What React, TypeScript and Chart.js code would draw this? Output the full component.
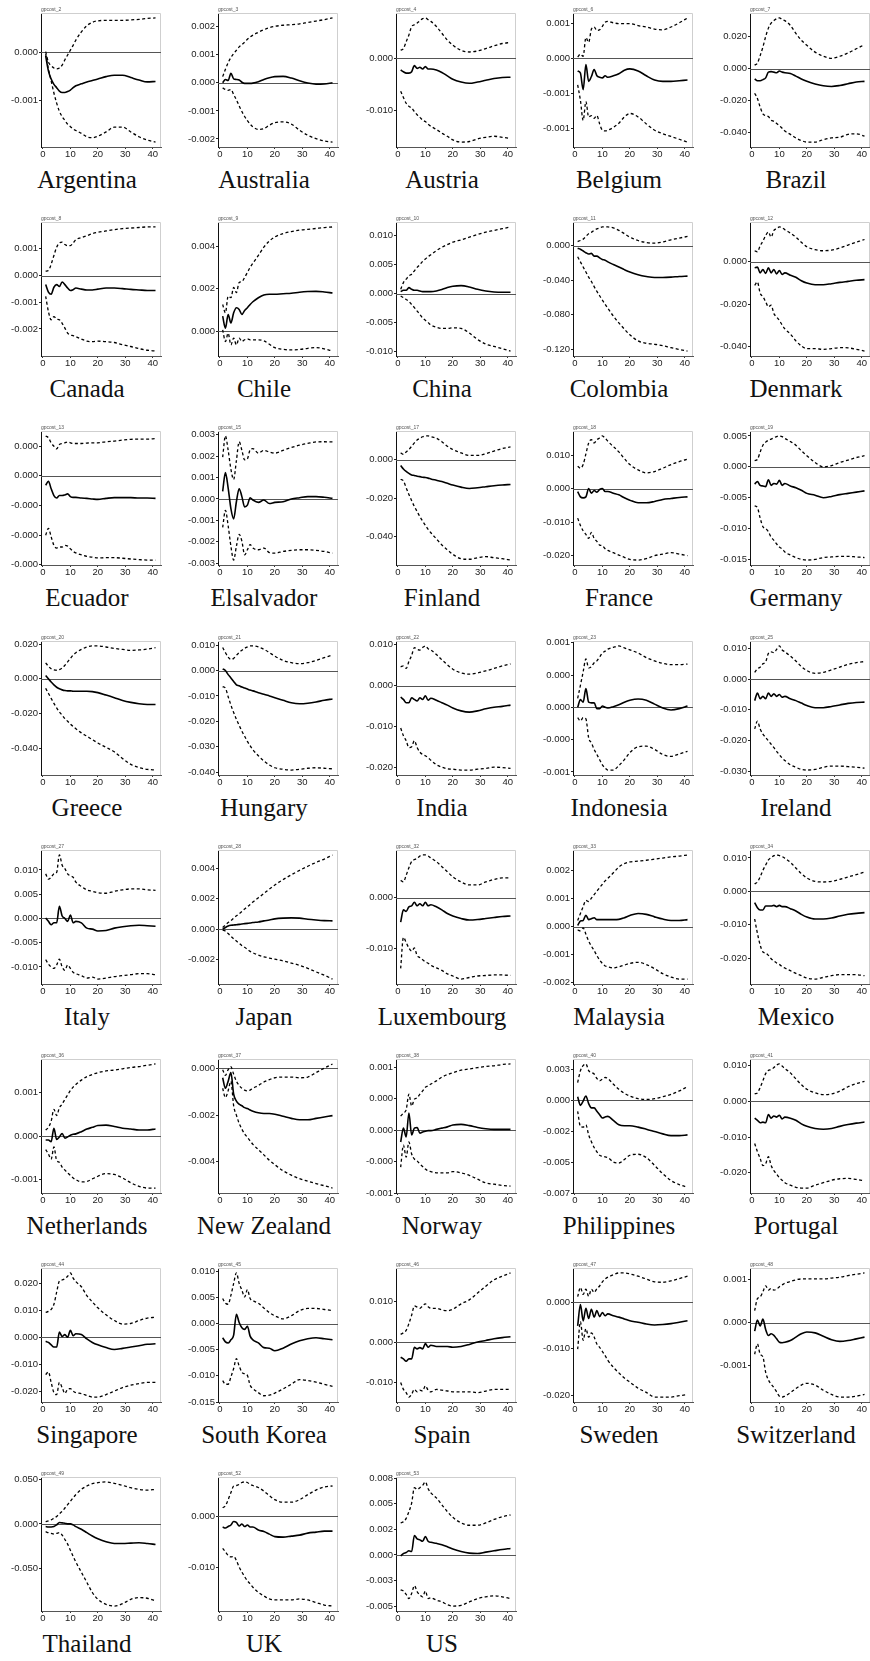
import React, { useEffect, useRef } from "react";
import { Chart, registerables } from "chart.js";

Chart.register(...registerables);

// Horizons (periods after the shock) at which each response is recorded
const horizons = [1, 2, 3, 4, 5, 6, 7, 8, 9, 10, 11, 12, 14, 16, 18, 20, 23, 26, 29, 32, 35, 38, 41];
const xTicks = [0, 10, 20, 30, 40];
// All responses and tick positions below are written in thousandths
const UNIT = 0.001;

const countries = [
  "Argentina", "Australia", "Austria", "Belgium", "Brazil",
  "Canada", "Chile", "China", "Colombia", "Denmark",
  "Ecuador", "Elsalvador", "Finland", "France", "Germany",
  "Greece", "Hungary", "India", "Indonesia", "Ireland",
  "Italy", "Japan", "Luxembourg", "Malaysia", "Mexico",
  "Netherlands", "New Zealand", "Norway", "Philippines", "Portugal",
  "Singapore", "South Korea", "Spain", "Sweden", "Switzerland",
  "Thailand", "UK", "US",
];

const panelCodes = [
  "gpcost_2", "gpcost_3", "gpcost_4", "gpcost_6", "gpcost_7",
  "gpcost_8", "gpcost_9", "gpcost_10", "gpcost_11", "gpcost_12",
  "gpcost_13", "gpcost_15", "gpcost_17", "gpcost_18", "gpcost_19",
  "gpcost_20", "gpcost_21", "gpcost_22", "gpcost_23", "gpcost_25",
  "gpcost_27", "gpcost_28", "gpcost_32", "gpcost_33", "gpcost_34",
  "gpcost_36", "gpcost_37", "gpcost_38", "gpcost_40", "gpcost_41",
  "gpcost_44", "gpcost_45", "gpcost_46", "gpcost_47", "gpcost_48",
  "gpcost_49", "gpcost_52", "gpcost_53",
];

const yTicks = [
  [0, -1], [2, 1, 0, -1, -2], [0, -10], [0.5, 0, -0.5, -1], [20, 0, -20, -40],
  [1, 0, -1, -2], [4, 2, 0], [10, 5, 0, -5, -10], [0, -40, -80, -120], [0, -20, -40],
  [0.2, 0, -0.2, -0.4, -0.6], [3, 2, 1, 0, -1, -2, -3], [0, -20, -40], [10, 0, -10, -20], [5, 0, -5, -10, -15],
  [20, 0, -20, -40], [10, 0, -10, -20, -30, -40], [10, 0, -10, -20], [1, 0.5, 0, -0.5, -1], [10, 0, -10, -20, -30],
  [10, 5, 0, -5, -10], [4, 2, 0, -2], [0, -10], [2, 1, 0, -1, -2], [10, 0, -10, -20],
  [1, 0, -1], [0, -2, -4], [1, 0.5, 0, -0.5, -1], [2.5, 0, -2.5, -5, -7.5], [10, 0, -10, -20],
  [20, 10, 0, -10, -20], [10, 5, 0, -5, -10, -15], [10, 0, -10], [0, -10, -20], [1, 0, -1],
  [50, 0, -50], [0, -10], [7.5, 5, 2.5, 0, -2.5, -5],
];

const yTickLabels = [
  ["0.000", "-0.001"],
  ["0.002", "0.001", "0.000", "-0.001", "-0.002"],
  ["0.000", "-0.010"],
  ["0.001", "0.000", "-0.001", "-0.001"],
  ["0.020", "0.000", "-0.020", "-0.040"],
  ["0.001", "0.000", "-0.001", "-0.002"],
  ["0.004", "0.002", "0.000"],
  ["0.010", "0.005", "0.000", "-0.005", "-0.010"],
  ["0.000", "-0.040", "-0.080", "-0.120"],
  ["0.000", "-0.020", "-0.040"],
  ["0.000", "0.000", "-0.000", "-0.000", "-0.000"],
  ["0.003", "0.002", "0.001", "0.000", "-0.001", "-0.002", "-0.003"],
  ["0.000", "-0.020", "-0.040"],
  ["0.010", "0.000", "-0.010", "-0.020"],
  ["0.005", "0.000", "-0.005", "-0.010", "-0.015"],
  ["0.020", "0.000", "-0.020", "-0.040"],
  ["0.010", "0.000", "-0.010", "-0.020", "-0.030", "-0.040"],
  ["0.010", "0.000", "-0.010", "-0.020"],
  ["0.001", "0.000", "0.000", "-0.000", "-0.001"],
  ["0.010", "0.000", "-0.010", "-0.020", "-0.030"],
  ["0.010", "0.005", "0.000", "-0.005", "-0.010"],
  ["0.004", "0.002", "0.000", "-0.002"],
  ["0.000", "-0.010"],
  ["0.002", "0.001", "0.000", "-0.001", "-0.002"],
  ["0.010", "0.000", "-0.010", "-0.020"],
  ["0.001", "0.000", "-0.001"],
  ["0.000", "-0.002", "-0.004"],
  ["0.001", "0.000", "0.000", "-0.000", "-0.001"],
  ["0.003", "0.000", "-0.002", "-0.005", "-0.007"],
  ["0.010", "0.000", "-0.010", "-0.020"],
  ["0.020", "0.010", "0.000", "-0.010", "-0.020"],
  ["0.010", "0.005", "0.000", "-0.005", "-0.010", "-0.015"],
  ["0.010", "0.000", "-0.010"],
  ["0.000", "-0.010", "-0.020"],
  ["0.001", "0.000", "-0.001"],
  ["0.050", "0.000", "-0.050"],
  ["0.000", "-0.010"],
  ["0.008", "0.005", "0.002", "0.000", "-0.003", "-0.005"],
];

// Point estimate of the impulse response
const irf = [
  [-0.08, -0.39, -0.56, -0.67, -0.74, -0.81, -0.84, -0.84, -0.82, -0.79, -0.74, -0.70, -0.66, -0.62, -0.59, -0.56, -0.51, -0.48, -0.48, -0.53, -0.58, -0.62, -0.61],
  [0, 0.12, 0.08, 0.34, 0.14, 0.12, 0.10, 0.02, -0.02, -0.02, -0.02, -0.01, 0.04, 0.12, 0.18, 0.22, 0.23, 0.17, 0.07, -0.01, -0.05, -0.04, 0],
  [-2.27, -2.60, -2.86, -2.86, -2.60, -1.43, -1.95, -1.75, -2.08, -1.62, -2.08, -2.08, -2.27, -2.73, -3.38, -4.03, -4.55, -4.80, -4.55, -4.22, -3.90, -3.70, -3.64],
  [-0.18, -0.21, -0.45, -0.09, -0.33, -0.26, -0.16, -0.25, -0.27, -0.28, -0.25, -0.27, -0.25, -0.22, -0.17, -0.15, -0.18, -0.25, -0.31, -0.33, -0.33, -0.32, -0.31],
  [-6.5, -7.6, -7.6, -6.9, -5.8, -2.2, -1.9, -2.2, -2.6, -1.5, -2.2, -2.6, -3.0, -4.7, -6.5, -8.0, -9.7, -10.8, -11.2, -10.6, -9.5, -8.4, -8.0],
  [-0.34, -0.62, -0.70, -0.44, -0.34, -0.41, -0.24, -0.34, -0.47, -0.56, -0.53, -0.47, -0.51, -0.54, -0.54, -0.51, -0.47, -0.47, -0.49, -0.52, -0.54, -0.56, -0.56],
  [0.70, 0.14, 0.78, 0.38, 0.86, 1.10, 1.02, 0.78, 0.97, 1.10, 1.25, 1.38, 1.57, 1.70, 1.73, 1.73, 1.76, 1.78, 1.83, 1.86, 1.87, 1.84, 1.79],
  [0.35, 0.58, 0.58, 1.04, 0.75, 0.58, 0.58, 0.46, 0.35, 0.35, 0.35, 0.35, 0.46, 0.70, 1.04, 1.28, 1.39, 1.16, 0.75, 0.46, 0.29, 0.23, 0.23],
  [-3.1, -4.3, -6.3, -8.3, -9.8, -9.0, -12.2, -12.2, -14.2, -16.1, -16.9, -18.9, -22.0, -24.8, -27.9, -30.7, -33.8, -35.8, -37.0, -37.0, -36.6, -35.8, -35.4],
  [-2.9, -2.6, -5.3, -3.7, -5.6, -2.9, -5.3, -3.7, -5.8, -4.2, -6.1, -5.3, -6.4, -7.4, -9.0, -10.1, -10.9, -10.9, -10.4, -9.8, -9.3, -8.8, -8.5],
  [-0.064, -0.037, -0.087, -0.133, -0.150, -0.133, -0.133, -0.129, -0.122, -0.140, -0.145, -0.145, -0.150, -0.152, -0.156, -0.159, -0.152, -0.147, -0.147, -0.147, -0.150, -0.150, -0.152],
  [0.35, 1.23, 0.51, -0.45, -0.93, -0.13, 0.48, 0.11, -0.37, -0.29, 0.06, -0.05, -0.16, -0.05, -0.21, -0.16, -0.13, 0, 0.06, 0.11, 0.11, 0.08, 0.03],
  [-3.0, -4.8, -6.1, -7.1, -7.9, -8.2, -8.6, -8.8, -9.1, -9.3, -9.6, -10.0, -10.7, -11.4, -12.3, -13.2, -14.3, -15.0, -14.6, -14.1, -13.6, -13.2, -12.9],
  [-0.8, -2.4, -2.7, -2.4, 0.1, -1.3, -0.5, -1.0, -0.2, 0.1, -0.8, -0.8, -1.3, -1.8, -2.7, -3.4, -4.2, -4.2, -3.8, -3.2, -2.9, -2.6, -2.4],
  [-2.8, -2.4, -3.0, -3.1, -3.2, -2.1, -3.0, -2.7, -2.8, -2.2, -3.0, -2.7, -3.1, -3.4, -3.8, -4.3, -4.6, -5.0, -4.8, -4.5, -4.3, -4.1, -3.9],
  [1.9, 0, -1.9, -3.5, -4.9, -5.8, -6.4, -6.8, -7.0, -7.0, -7.2, -7.2, -7.2, -7.2, -7.4, -8.0, -9.4, -10.9, -12.5, -13.6, -14.4, -14.8, -14.8],
  [0.7, 0, -1.6, -2.9, -4.3, -5.6, -6.0, -6.5, -6.9, -7.3, -7.7, -8.0, -8.7, -9.3, -10.0, -10.7, -11.7, -12.7, -13.1, -12.9, -12.4, -11.7, -11.2],
  [-2.8, -3.4, -4.2, -4.2, -3.0, -3.4, -3.8, -3.0, -3.4, -2.5, -3.6, -3.1, -3.6, -4.2, -4.8, -5.5, -6.2, -6.5, -6.2, -5.7, -5.3, -5.1, -4.8],
  [0, 0.12, 0.08, 0.29, 0.08, 0.07, 0.07, -0.02, -0.02, 0.02, 0, -0.01, 0.01, 0.04, 0.08, 0.11, 0.13, 0.11, 0.05, -0.01, -0.04, -0.02, 0.02],
  [-7.0, -4.5, -6.4, -5.6, -6.4, -4.5, -5.6, -4.8, -5.6, -5.0, -5.9, -5.6, -6.4, -7.0, -7.8, -8.6, -9.3, -9.3, -8.9, -8.4, -7.9, -7.6, -7.5],
  [0.1, -0.6, -1.3, -0.9, -0.9, 2.5, 0.5, 0, -0.6, 0.7, -0.9, -0.6, -0.9, -2.0, -2.2, -2.6, -2.5, -2.0, -1.7, -1.5, -1.4, -1.5, -1.6],
  [0, 0.11, 0.20, 0.25, 0.27, 0.29, 0.31, 0.34, 0.36, 0.38, 0.40, 0.43, 0.47, 0.54, 0.60, 0.67, 0.72, 0.74, 0.72, 0.65, 0.60, 0.56, 0.54],
  [-4.8, -2.4, -2.7, -1.8, -1.6, -0.9, -1.6, -1.2, -1.6, -0.9, -1.6, -1.4, -1.8, -2.4, -3.1, -3.6, -4.1, -4.4, -4.3, -4.1, -3.9, -3.7, -3.6],
  [0.04, 0.20, 0.22, 0.41, 0.25, 0.28, 0.32, 0.25, 0.25, 0.25, 0.25, 0.25, 0.25, 0.26, 0.32, 0.40, 0.47, 0.44, 0.35, 0.27, 0.22, 0.22, 0.25],
  [-3.4, -4.9, -5.6, -5.6, -4.4, -4.4, -4.4, -4.2, -4.6, -4.2, -4.6, -4.6, -5.2, -5.9, -6.9, -7.7, -8.3, -8.3, -8.0, -7.4, -6.9, -6.6, -6.4],
  [-0.09, -0.09, -0.13, 0.18, -0.08, -0.02, 0.06, -0.05, -0.02, 0.02, 0.04, 0.05, 0.10, 0.16, 0.20, 0.24, 0.25, 0.22, 0.18, 0.16, 0.14, 0.14, 0.16],
  [-0.40, -0.85, -0.55, -0.18, -1.10, -1.40, -1.53, -1.60, -1.68, -1.72, -1.78, -1.83, -1.90, -1.93, -1.93, -1.96, -2.05, -2.14, -2.20, -2.20, -2.14, -2.08, -2.02],
  [-0.19, 0.03, -0.11, 0.27, -0.08, 0.03, 0.04, -0.05, -0.03, -0.02, -0.01, -0.01, 0.01, 0.03, 0.05, 0.08, 0.09, 0.07, 0.04, 0.02, 0.01, 0.01, 0.01],
  [0.30, -0.40, -0.05, 0.36, -0.25, -0.60, -0.60, -0.88, -1.15, -1.42, -1.34, -1.29, -1.62, -1.97, -2.05, -2.05, -2.16, -2.33, -2.52, -2.71, -2.85, -2.85, -2.79],
  [-4.7, -5.3, -6.0, -5.8, -6.0, -3.7, -4.7, -4.1, -4.4, -3.9, -4.9, -4.4, -4.7, -5.3, -6.3, -7.0, -7.6, -7.8, -7.6, -7.0, -6.5, -6.1, -5.8],
  [-1.5, -1.9, -2.8, -3.6, -3.6, 1.9, 0.3, 1.0, 0, 2.6, 0.6, 1.3, 1.0, -0.6, -1.9, -2.8, -3.8, -4.5, -4.1, -3.6, -3.1, -2.6, -2.4],
  [-2.7, -3.5, -3.7, -3.1, -2.2, 1.8, 0.2, -0.8, -1.1, -0.5, -2.4, -3.1, -3.7, -4.6, -4.7, -5.2, -4.7, -3.9, -3.3, -2.9, -2.7, -2.9, -3.1],
  [-3.8, -4.2, -4.8, -4.2, -4.2, -1.3, -1.7, -1.4, -1.7, -0.4, -1.3, -0.8, -1.1, -1.1, -1.1, -1.3, -1.1, -0.6, 0, 0.4, 0.8, 1.1, 1.3],
  [-5.1, -0.5, -4.0, -1.3, -3.5, -1.5, -3.2, -1.8, -3.1, -2.2, -2.9, -2.5, -2.9, -3.2, -3.6, -4.0, -4.3, -4.7, -4.9, -4.8, -4.6, -4.3, -4.0],
  [-0.20, 0.06, -0.08, 0.08, -0.16, -0.30, -0.26, -0.30, -0.38, -0.46, -0.47, -0.46, -0.42, -0.34, -0.26, -0.22, -0.24, -0.32, -0.40, -0.44, -0.42, -0.38, -0.34],
  [-3.0, -3.4, -3.4, -3.0, -1.1, 1.5, 1.1, 0.8, 0, 0, -1.1, -3.0, -6.0, -9.8, -13.6, -16.6, -20.0, -21.9, -21.9, -21.5, -21.1, -21.9, -23.0],
  [-2.1, -2.3, -2.0, -1.7, -1.0, -1.2, -1.9, -1.5, -2.0, -1.7, -2.1, -2.1, -2.7, -3.0, -3.5, -4.0, -4.1, -3.9, -3.7, -3.3, -3.1, -2.9, -2.9],
  [-0.10, 0.13, 0.23, 0.40, 0.33, 1.90, 1.57, 1.47, 1.33, 1.80, 1.33, 1.23, 1.13, 1.00, 0.80, 0.57, 0.33, 0.17, 0.13, 0.27, 0.40, 0.53, 0.63],
];

// Lower confidence bound
const lowerBand = [
  [-0.04, -0.35, -0.60, -0.85, -1.06, -1.23, -1.34, -1.42, -1.50, -1.55, -1.60, -1.63, -1.69, -1.76, -1.78, -1.75, -1.66, -1.56, -1.56, -1.66, -1.76, -1.83, -1.87],
  [-0.18, -0.24, -0.27, -0.24, -0.42, -0.60, -0.82, -1.02, -1.20, -1.35, -1.47, -1.57, -1.66, -1.63, -1.51, -1.42, -1.39, -1.47, -1.69, -1.87, -1.99, -2.07, -2.11],
  [-6.3, -7.5, -8.6, -9.2, -9.5, -10.2, -10.8, -11.3, -11.8, -12.1, -12.6, -13.0, -13.6, -14.3, -14.9, -15.6, -16.0, -15.9, -15.4, -15.1, -14.9, -15.1, -15.3],
  [-0.38, -0.60, -0.89, -0.62, -0.84, -0.82, -0.86, -0.82, -0.94, -1.03, -1.04, -1.03, -0.99, -0.93, -0.84, -0.79, -0.84, -0.94, -1.03, -1.08, -1.12, -1.16, -1.20],
  [-15.5, -18.8, -24.2, -28.5, -29.6, -30.2, -32.4, -33.2, -34.5, -36.0, -37.5, -39.3, -41.4, -43.6, -45.3, -46.2, -46.2, -44.7, -43.6, -43.2, -41.4, -41.0, -42.5],
  [-0.78, -1.35, -1.66, -1.54, -1.63, -1.66, -1.79, -1.97, -2.16, -2.23, -2.25, -2.29, -2.38, -2.46, -2.48, -2.46, -2.48, -2.51, -2.59, -2.66, -2.74, -2.80, -2.83],
  [0.06, -0.49, -0.10, -0.65, -0.33, -0.65, -0.33, -0.49, -0.41, -0.37, -0.41, -0.41, -0.41, -0.46, -0.62, -0.78, -0.86, -0.89, -0.87, -0.81, -0.78, -0.84, -0.94],
  [-0.4, -0.7, -1.0, -1.3, -1.9, -2.4, -3.0, -3.6, -4.2, -4.6, -5.0, -5.4, -5.8, -6.0, -6.0, -5.9, -6.0, -6.8, -7.9, -8.7, -9.1, -9.5, -9.9],
  [-13.0, -18.9, -24.8, -30.7, -36.6, -41.7, -47.6, -53.1, -58.2, -63.3, -68.1, -72.8, -81.8, -89.7, -96.8, -103.5, -110.5, -113.3, -114.5, -116.0, -118.4, -120.4, -122.3],
  [-11.2, -9.6, -14.9, -16.5, -18.9, -21.3, -20.5, -24.5, -26.1, -27.7, -29.8, -31.7, -34.1, -37.3, -39.7, -41.0, -41.0, -41.3, -41.0, -40.5, -40.6, -41.3, -42.1],
  [-0.400, -0.354, -0.411, -0.469, -0.487, -0.480, -0.480, -0.469, -0.474, -0.492, -0.510, -0.520, -0.533, -0.543, -0.549, -0.554, -0.552, -0.552, -0.556, -0.561, -0.565, -0.568, -0.568],
  [-1.33, -0.53, -1.25, -2.21, -2.85, -2.21, -1.65, -1.97, -2.61, -2.37, -2.13, -2.29, -2.37, -2.29, -2.50, -2.53, -2.45, -2.40, -2.37, -2.37, -2.40, -2.45, -2.53],
  [-10.2, -11.1, -14.6, -18.2, -21.4, -24.5, -27.1, -29.8, -32.1, -34.3, -36.4, -38.2, -41.4, -44.6, -47.1, -49.5, -51.8, -52.1, -51.3, -50.7, -51.3, -51.8, -52.5],
  [-8.8, -11.0, -12.6, -13.7, -14.9, -13.1, -14.9, -15.8, -16.9, -17.1, -18.0, -18.5, -19.2, -19.9, -20.6, -21.2, -21.4, -21.0, -20.1, -19.6, -19.2, -19.6, -20.1],
  [-6.3, -6.6, -8.3, -9.7, -10.0, -10.5, -11.4, -11.9, -12.5, -13.0, -13.3, -13.8, -14.3, -14.7, -15.0, -15.1, -15.0, -14.7, -14.6, -14.5, -14.5, -14.6, -14.7],
  [-5.5, -8.4, -11.3, -14.2, -16.8, -19.1, -21.0, -23.0, -24.5, -26.1, -27.5, -28.8, -31.2, -33.1, -35.1, -37.0, -39.5, -42.1, -46.0, -49.3, -51.2, -52.2, -52.6],
  [-6.3, -6.9, -10.3, -13.6, -16.5, -19.2, -21.6, -23.9, -25.9, -27.9, -29.6, -31.2, -33.6, -35.6, -37.2, -38.3, -38.9, -39.2, -38.9, -38.5, -38.3, -38.5, -38.7],
  [-10.4, -12.3, -13.5, -15.2, -15.0, -13.5, -15.2, -16.3, -16.9, -17.2, -17.7, -18.3, -19.4, -20.0, -20.4, -20.5, -20.7, -20.7, -20.5, -20.3, -20.0, -20.1, -20.3],
  [-0.16, -0.21, -0.16, -0.18, -0.47, -0.55, -0.65, -0.73, -0.81, -0.89, -0.94, -0.97, -0.97, -0.90, -0.81, -0.70, -0.61, -0.60, -0.65, -0.73, -0.76, -0.72, -0.68],
  [-16.2, -13.7, -16.2, -17.9, -19.0, -20.1, -21.2, -22.3, -23.5, -24.6, -25.7, -26.5, -27.9, -28.7, -29.4, -29.6, -29.4, -28.7, -28.3, -28.3, -28.5, -28.7, -29.0],
  [-8.5, -9.4, -10.0, -10.3, -9.6, -8.4, -10.0, -10.7, -9.6, -10.3, -11.1, -11.4, -11.8, -12.3, -12.1, -12.5, -12.3, -12.0, -11.8, -11.6, -11.4, -11.4, -11.6],
  [-0.07, -0.13, -0.29, -0.47, -0.63, -0.78, -0.92, -1.08, -1.19, -1.32, -1.46, -1.55, -1.70, -1.81, -1.90, -1.97, -2.08, -2.22, -2.37, -2.57, -2.80, -3.02, -3.27],
  [-13.9, -7.8, -8.8, -9.9, -10.5, -9.9, -11.4, -11.8, -12.2, -12.6, -12.9, -13.3, -13.8, -14.3, -15.0, -15.4, -16.0, -15.7, -15.4, -15.3, -15.2, -15.2, -15.3],
  [-0.12, -0.15, -0.05, -0.27, -0.52, -0.70, -0.86, -1.04, -1.20, -1.32, -1.41, -1.44, -1.48, -1.44, -1.38, -1.32, -1.28, -1.36, -1.51, -1.69, -1.81, -1.88, -1.88],
  [-8.3, -12.6, -16.1, -18.2, -18.5, -19.2, -20.2, -20.9, -21.5, -21.9, -22.6, -23.0, -23.8, -24.6, -25.3, -26.0, -26.3, -25.8, -25.3, -25.0, -25.0, -25.0, -25.3],
  [-0.31, -0.41, -0.53, -0.25, -0.56, -0.60, -0.71, -0.78, -0.84, -0.90, -0.96, -1.00, -1.05, -1.04, -0.98, -0.92, -0.86, -0.88, -0.96, -1.07, -1.15, -1.19, -1.19],
  [-0.85, -1.25, -0.95, -0.55, -1.60, -2.00, -2.35, -2.60, -2.80, -2.95, -3.10, -3.25, -3.48, -3.70, -3.93, -4.12, -4.38, -4.57, -4.72, -4.83, -4.93, -5.02, -5.12],
  [-0.59, -0.24, -0.43, -0.19, -0.38, -0.46, -0.49, -0.54, -0.58, -0.62, -0.65, -0.66, -0.68, -0.68, -0.68, -0.66, -0.68, -0.72, -0.78, -0.84, -0.86, -0.88, -0.89],
  [-0.88, -2.11, -2.16, -1.97, -2.79, -3.34, -3.81, -4.16, -4.44, -4.52, -4.58, -4.63, -4.99, -5.07, -4.79, -4.44, -4.36, -4.63, -5.26, -5.94, -6.49, -6.82, -7.04],
  [-11.8, -14.1, -16.0, -18.0, -17.5, -15.5, -18.0, -19.4, -20.4, -21.4, -22.1, -22.8, -23.5, -24.1, -24.3, -24.3, -23.5, -22.8, -22.1, -21.7, -21.6, -21.9, -22.3],
  [-13.8, -12.8, -16.7, -20.5, -21.2, -16.7, -18.6, -20.8, -19.2, -19.0, -19.9, -20.5, -20.8, -21.5, -22.1, -22.1, -21.2, -19.9, -18.6, -17.7, -17.1, -16.7, -16.7],
  [-10.9, -11.6, -11.6, -10.2, -8.6, -6.7, -8.1, -9.3, -9.6, -9.9, -11.8, -12.4, -13.2, -13.8, -13.7, -13.3, -12.5, -11.6, -10.7, -10.9, -11.2, -11.6, -12.0],
  [-10.1, -11.8, -12.6, -13.7, -13.0, -11.8, -12.4, -12.0, -12.2, -10.9, -12.0, -12.4, -11.8, -12.0, -12.2, -12.4, -12.4, -12.4, -12.6, -12.2, -11.8, -11.8, -11.8],
  [-10.1, -4.2, -8.2, -5.7, -7.5, -6.6, -7.5, -9.0, -9.7, -10.6, -11.5, -12.5, -14.0, -15.2, -16.3, -17.2, -18.5, -19.4, -20.4, -20.4, -20.4, -20.1, -19.9],
  [-0.74, -0.50, -0.74, -0.80, -1.16, -1.34, -1.44, -1.52, -1.62, -1.72, -1.74, -1.72, -1.64, -1.54, -1.46, -1.42, -1.46, -1.58, -1.68, -1.74, -1.74, -1.72, -1.68],
  [-8.7, -9.8, -10.6, -11.3, -10.6, -9.8, -12.5, -17.4, -22.6, -29.4, -36.2, -42.6, -54.0, -65.3, -76.6, -84.2, -89.8, -91.7, -89.1, -84.2, -82.3, -83.0, -86.0],
  [-6.3, -7.0, -7.7, -8.0, -7.9, -8.7, -10.0, -11.0, -11.9, -12.7, -13.3, -14.0, -15.0, -15.7, -16.3, -16.5, -16.5, -16.5, -16.3, -16.5, -17.0, -17.5, -17.7],
  [-3.43, -3.53, -3.87, -4.27, -3.77, -3.00, -3.60, -3.93, -4.10, -3.53, -4.27, -4.20, -4.43, -4.60, -4.87, -5.00, -4.93, -4.60, -4.27, -4.10, -4.00, -4.10, -4.27],
];

// Upper confidence bound
const upperBand = [
  [0.01, -0.21, -0.28, -0.33, -0.35, -0.33, -0.27, -0.16, -0.06, 0.04, 0.14, 0.25, 0.42, 0.55, 0.62, 0.65, 0.66, 0.66, 0.66, 0.67, 0.68, 0.70, 0.71],
  [0.22, 0.48, 0.72, 0.90, 1.04, 1.16, 1.28, 1.36, 1.45, 1.55, 1.63, 1.70, 1.80, 1.89, 1.96, 2.01, 2.05, 2.07, 2.10, 2.15, 2.20, 2.25, 2.31],
  [1.49, 1.82, 3.12, 4.42, 6.04, 6.36, 6.69, 7.14, 7.53, 7.66, 7.34, 7.01, 6.04, 4.74, 3.44, 2.47, 1.49, 1.17, 1.36, 1.82, 2.34, 2.79, 2.99],
  [0.02, 0.06, 0.03, 0.30, 0.23, 0.42, 0.45, 0.40, 0.41, 0.46, 0.52, 0.53, 0.51, 0.50, 0.50, 0.50, 0.47, 0.45, 0.42, 0.41, 0.45, 0.51, 0.58],
  [2.2, 3.5, 8.2, 13.6, 20.1, 25.5, 28.7, 30.2, 31.5, 31.9, 30.9, 30.2, 27.2, 22.2, 17.9, 14.7, 10.4, 7.8, 6.5, 7.8, 9.9, 12.5, 15.1],
  [0.16, 0.19, 0.42, 0.75, 1.06, 1.22, 1.25, 1.16, 1.12, 1.12, 1.22, 1.34, 1.42, 1.49, 1.57, 1.62, 1.67, 1.72, 1.76, 1.78, 1.80, 1.82, 1.82],
  [1.25, 0.86, 1.65, 1.57, 2.05, 1.81, 2.29, 2.33, 2.52, 2.76, 3.00, 3.19, 3.56, 3.95, 4.24, 4.43, 4.59, 4.68, 4.75, 4.79, 4.83, 4.87, 4.90],
  [0.75, 1.91, 2.49, 3.07, 3.36, 3.94, 4.52, 5.00, 5.57, 5.97, 6.38, 6.72, 7.42, 7.99, 8.46, 8.87, 9.28, 9.74, 10.2, 10.6, 10.9, 11.2, 11.5],
  [4.7, 5.9, 7.5, 10.6, 13.8, 15.3, 17.7, 19.3, 20.5, 21.6, 21.6, 21.6, 20.5, 17.7, 13.8, 9.8, 5.9, 3.5, 2.8, 4.3, 6.7, 8.7, 10.6],
  [5.1, 4.6, 7.5, 9.6, 12.3, 13.9, 11.5, 14.7, 15.5, 16.3, 16.0, 15.0, 13.4, 11.5, 9.1, 7.0, 5.6, 5.1, 5.4, 6.4, 7.8, 9.1, 10.4],
  [0.269, 0.257, 0.223, 0.200, 0.182, 0.211, 0.218, 0.223, 0.228, 0.223, 0.218, 0.218, 0.218, 0.221, 0.223, 0.223, 0.230, 0.234, 0.241, 0.246, 0.248, 0.248, 0.251],
  [1.95, 2.94, 2.27, 1.39, 0.91, 1.79, 2.67, 2.27, 1.82, 1.87, 2.30, 2.35, 2.14, 2.27, 2.19, 2.14, 2.27, 2.40, 2.51, 2.59, 2.66, 2.67, 2.66],
  [3.6, 2.9, 4.1, 5.4, 7.1, 8.9, 10.4, 11.3, 12.1, 12.5, 12.5, 12.1, 11.3, 9.5, 7.1, 5.4, 3.6, 2.3, 2.3, 3.2, 4.6, 5.9, 6.8],
  [6.8, 6.2, 7.3, 10.5, 13.8, 14.8, 13.8, 14.8, 15.3, 15.9, 15.2, 14.3, 12.7, 11.1, 9.1, 7.3, 5.7, 4.8, 5.2, 6.2, 7.3, 8.2, 8.9],
  [1.0, 1.2, 2.4, 3.5, 4.0, 4.3, 4.5, 4.7, 4.9, 5.0, 4.9, 4.6, 4.1, 3.5, 2.6, 1.8, 0.7, 0.0, 0.2, 0.7, 1.1, 1.5, 1.8],
  [9.2, 7.2, 5.8, 5.1, 4.9, 5.3, 6.2, 7.8, 9.7, 11.7, 13.6, 15.0, 16.9, 18.3, 18.9, 18.9, 18.3, 17.5, 16.9, 16.4, 16.6, 17.1, 17.9],
  [9.1, 7.1, 5.3, 4.4, 4.8, 6.0, 7.1, 8.0, 8.8, 9.3, 9.7, 9.7, 9.3, 8.4, 7.1, 5.7, 4.0, 3.1, 2.7, 3.1, 4.0, 5.1, 6.1],
  [4.6, 4.8, 4.2, 5.9, 7.4, 9.3, 8.9, 8.7, 9.3, 9.7, 9.0, 8.7, 7.6, 6.3, 5.1, 4.0, 3.1, 2.8, 3.1, 3.6, 4.2, 4.8, 5.3],
  [0.14, 0.34, 0.55, 0.75, 0.61, 0.63, 0.69, 0.72, 0.78, 0.84, 0.87, 0.90, 0.93, 0.95, 0.92, 0.89, 0.84, 0.77, 0.72, 0.68, 0.66, 0.66, 0.67],
  [2.2, 3.4, 3.9, 5.0, 5.6, 8.4, 8.9, 8.6, 9.7, 10.8, 9.5, 8.9, 7.5, 5.9, 4.1, 2.8, 1.9, 2.2, 3.0, 3.9, 4.8, 5.4, 5.7],
  [9.2, 8.1, 8.5, 9.2, 9.5, 13.1, 11.0, 10.3, 9.2, 8.8, 8.5, 7.5, 6.6, 5.9, 5.6, 5.3, 5.2, 5.6, 5.9, 6.1, 6.1, 5.9, 5.8],
  [0.11, 0.27, 0.43, 0.56, 0.72, 0.87, 1.01, 1.16, 1.32, 1.46, 1.61, 1.77, 2.06, 2.33, 2.62, 2.89, 3.25, 3.56, 3.85, 4.12, 4.37, 4.59, 4.86],
  [3.4, 3.1, 4.4, 5.9, 7.1, 7.5, 7.7, 8.2, 8.4, 8.4, 8.2, 7.8, 7.1, 6.1, 5.1, 4.1, 3.1, 2.5, 2.5, 3.1, 3.6, 3.9, 3.9],
  [0.22, 0.47, 0.72, 0.94, 0.90, 1.02, 1.15, 1.27, 1.40, 1.52, 1.64, 1.73, 1.93, 2.14, 2.26, 2.32, 2.35, 2.38, 2.42, 2.46, 2.50, 2.53, 2.57],
  [2.2, 2.8, 4.3, 6.3, 7.9, 9.4, 10.1, 10.7, 10.9, 10.7, 10.4, 9.9, 8.7, 7.0, 5.3, 4.0, 3.0, 2.8, 3.0, 3.6, 4.3, 5.0, 5.8],
  [0.14, 0.20, 0.34, 0.61, 0.47, 0.65, 0.73, 0.84, 0.94, 1.04, 1.12, 1.18, 1.28, 1.36, 1.41, 1.45, 1.49, 1.51, 1.54, 1.57, 1.59, 1.62, 1.65],
  [-0.06, -0.30, -0.05, 0.07, -0.25, -0.55, -0.73, -0.85, -0.93, -0.96, -0.93, -0.85, -0.73, -0.58, -0.48, -0.40, -0.37, -0.37, -0.40, -0.37, -0.18, 0.01, 0.19],
  [0.22, 0.27, 0.32, 0.57, 0.38, 0.49, 0.51, 0.57, 0.62, 0.68, 0.70, 0.73, 0.78, 0.84, 0.88, 0.91, 0.95, 0.97, 0.99, 1.01, 1.02, 1.04, 1.05],
  [1.45, 2.41, 2.82, 2.96, 2.41, 2.27, 2.14, 1.78, 1.59, 1.73, 1.86, 1.78, 1.32, 0.90, 0.58, 0.36, 0.14, 0.08, 0.14, 0.30, 0.49, 0.77, 1.12],
  [2.1, 2.4, 3.9, 5.8, 7.8, 8.7, 8.9, 9.5, 10.2, 10.5, 9.9, 9.2, 8.0, 6.3, 4.7, 3.4, 2.4, 1.9, 2.1, 2.9, 4.1, 5.0, 5.6],
  [9.2, 9.6, 10.3, 12.2, 16.7, 20.8, 21.2, 21.7, 22.6, 23.8, 21.9, 20.6, 18.7, 15.4, 13.1, 10.9, 8.3, 6.2, 4.9, 5.1, 6.2, 7.1, 7.4],
  [4.8, 3.9, 3.7, 5.4, 7.7, 9.7, 7.7, 6.4, 5.1, 6.5, 4.8, 4.4, 3.9, 3.0, 2.1, 1.5, 0.9, 1.5, 2.5, 2.9, 2.9, 2.7, 2.5],
  [1.9, 2.3, 2.9, 4.6, 6.7, 9.0, 8.7, 8.4, 9.0, 9.5, 8.8, 8.4, 8.4, 8.0, 7.8, 8.2, 9.5, 10.5, 12.2, 13.9, 15.5, 16.4, 17.2],
  [1.2, 3.2, 1.7, 2.8, 1.3, 2.8, 2.1, 2.9, 3.5, 4.4, 5.0, 5.4, 5.9, 6.3, 6.3, 6.1, 5.6, 5.0, 4.4, 4.3, 4.6, 5.1, 5.6],
  [0.28, 0.56, 0.60, 0.72, 0.86, 0.76, 0.80, 0.76, 0.78, 0.84, 0.88, 0.92, 0.96, 1.00, 1.02, 1.02, 1.02, 1.02, 1.04, 1.06, 1.10, 1.13, 1.16],
  [2.6, 3.4, 4.5, 6.4, 8.3, 11.3, 14.0, 17.7, 21.5, 25.3, 29.1, 32.8, 38.5, 42.3, 44.9, 46.0, 46.8, 45.3, 43.0, 40.4, 38.5, 37.7, 38.5],
  [1.7, 2.1, 3.3, 4.7, 6.0, 6.1, 6.3, 6.7, 6.8, 6.7, 6.3, 6.1, 5.7, 5.0, 4.1, 3.3, 2.8, 2.8, 3.3, 4.3, 5.2, 5.8, 6.0],
  [3.13, 3.23, 3.57, 4.23, 5.07, 6.57, 6.40, 6.57, 6.80, 7.13, 6.47, 6.07, 5.57, 4.90, 4.23, 3.67, 3.13, 2.90, 2.90, 3.13, 3.47, 3.73, 3.90],
];

const COLUMNS = 5;
const COL_PITCH = 177.25;
const ROW_PITCH = 209.2;
const FIRST_PLOT_RIGHT = 161;
const FIRST_PLOT_TOP = 13;
const PLOT_W = 120;
const PLOT_H = 134;
const Y_AXIS_W = 40;
const X_AXIS_H = 16;
const TOP_PAD = 12;

const TICK_FONT = {
  family: "'Liberation Sans Narrow', 'Arial Narrow', 'Liberation Sans', Arial, sans-serif",
  size: 9.5,
};

// Light frame on the top/right of the plot region, plus the zero reference line and the small panel tag
const panelDecor = {
  id: "panelDecor",
  beforeDatasetsDraw(chart: any) {
    const { ctx, chartArea: a, scales } = chart;
    ctx.save();
    ctx.lineWidth = 1;
    ctx.strokeStyle = "#cfcfcf";
    ctx.beginPath();
    ctx.moveTo(a.left, a.top + 0.5);
    ctx.lineTo(a.right - 0.5, a.top + 0.5);
    ctx.lineTo(a.right - 0.5, a.bottom);
    ctx.stroke();
    const y0 = Math.round(scales.y.getPixelForValue(0)) + 0.5;
    ctx.strokeStyle = "#555";
    ctx.beginPath();
    ctx.moveTo(a.left, y0);
    ctx.lineTo(a.right, y0);
    ctx.stroke();
    ctx.restore();
  },
  afterDraw(chart: any, _args: any, opts: any) {
    const { ctx, chartArea: a } = chart;
    ctx.save();
    ctx.font = "5px 'Liberation Sans', Arial, sans-serif";
    ctx.fillStyle = "#555";
    ctx.textAlign = "left";
    ctx.textBaseline = "alphabetic";
    ctx.fillText(opts.code, a.left, a.top - 2);
    ctx.restore();
  },
};

function Panel({ index }: { index: number }) {
  const ref = useRef<HTMLCanvasElement | null>(null);

  useEffect(() => {
    if (!ref.current) return;
    const toPoints = (arr: number[]) => arr.map((v, i) => ({ x: horizons[i], y: v * UNIT }));
    const all = [...irf[index], ...lowerBand[index], ...upperBand[index]].map((v) => v * UNIT);
    const ticks = yTicks[index].map((v) => v * UNIT);
    const labels = yTickLabels[index];
    const dMin = Math.min(...all);
    const dMax = Math.max(...all);
    const pad = 0.04 * (dMax - dMin);
    const yMin = Math.min(dMin - pad, Math.min(...ticks));
    const yMax = Math.max(dMax + pad, Math.max(...ticks));

    const dashed = {
      borderColor: "#000",
      borderWidth: 1.3,
      borderDash: [3, 2.5],
      pointRadius: 0,
      cubicInterpolationMode: "monotone" as const,
      fill: false,
    };
    const solid = {
      borderColor: "#000",
      borderWidth: 1.6,
      pointRadius: 0,
      cubicInterpolationMode: "monotone" as const,
      fill: false,
    };

    const chart = new Chart(ref.current, {
      type: "line",
      data: {
        datasets: [
          { label: "upper", data: toPoints(upperBand[index]), ...dashed },
          { label: "irf", data: toPoints(irf[index]), ...solid },
          { label: "lower", data: toPoints(lowerBand[index]), ...dashed },
        ],
      },
      options: {
        animation: false,
        responsive: false,
        events: [],
        layout: { padding: { top: TOP_PAD, right: 1, left: 0, bottom: 0 } },
        plugins: {
          legend: { display: false },
          tooltip: { enabled: false },
          panelDecor: { code: panelCodes[index] },
        } as any,
        scales: {
          x: {
            type: "linear",
            min: -0.7,
            max: 43,
            afterBuildTicks: (s: any) => {
              s.ticks = xTicks.map((v) => ({ value: v }));
            },
            afterFit: (s: any) => {
              s.height = X_AXIS_H;
            },
            ticks: {
              autoSkip: false,
              maxRotation: 0,
              padding: 0,
              color: "#222",
              font: TICK_FONT,
              callback: (v: any) => String(v),
            },
            grid: { display: true, drawOnChartArea: false, drawTicks: true, tickLength: 2, color: "#333" },
            border: { display: true, color: "#555", width: 1 },
          },
          y: {
            type: "linear",
            min: yMin,
            max: yMax,
            afterBuildTicks: (s: any) => {
              s.ticks = ticks.map((v) => ({ value: v }));
            },
            afterFit: (s: any) => {
              s.width = Y_AXIS_W;
            },
            ticks: {
              autoSkip: false,
              padding: 1,
              color: "#222",
              font: TICK_FONT,
              callback: (v: any) => {
                const k = ticks.findIndex((t) => Math.abs(t - v) < 1e-12);
                return k >= 0 ? labels[k] : "";
              },
            },
            grid: { display: true, drawOnChartArea: false, drawTicks: true, tickLength: 2, color: "#222" },
            border: { display: true, color: "#111", width: 1 },
          },
        },
      } as any,
      plugins: [panelDecor as any],
    });
    return () => chart.destroy();
  }, [index]);

  const col = index % COLUMNS;
  const row = Math.floor(index / COLUMNS);
  const plotRight = Math.round(FIRST_PLOT_RIGHT + COL_PITCH * col);
  const plotTop = Math.round(FIRST_PLOT_TOP + ROW_PITCH * row);
  const canvasW = Y_AXIS_W + PLOT_W + 1;
  const canvasH = TOP_PAD + PLOT_H + X_AXIS_H;

  return (
    <>
      <canvas
        ref={ref}
        width={canvasW}
        height={canvasH}
        style={{
          position: "absolute",
          left: plotRight - PLOT_W - Y_AXIS_W,
          top: plotTop - TOP_PAD,
          width: canvasW,
          height: canvasH,
        }}
      />
      <div
        style={{
          position: "absolute",
          left: plotRight - 74 - 100,
          top: plotTop + PLOT_H + 18,
          width: 200,
          textAlign: "center",
          fontFamily: "'Liberation Serif', 'Times New Roman', serif",
          fontSize: 25,
          lineHeight: "30px",
          color: "#111",
          whiteSpace: "nowrap",
        }}
      >
        {countries[index]}
      </div>
    </>
  );
}

export default function App() {
  return (
    <div
      style={{
        position: "absolute",
        left: 0,
        top: 0,
        width: 870,
        height: 1661,
        overflow: "hidden",
        background: "#fff",
      }}
    >
      {countries.map((_, i) => (
        <Panel key={i} index={i} />
      ))}
    </div>
  );
}
